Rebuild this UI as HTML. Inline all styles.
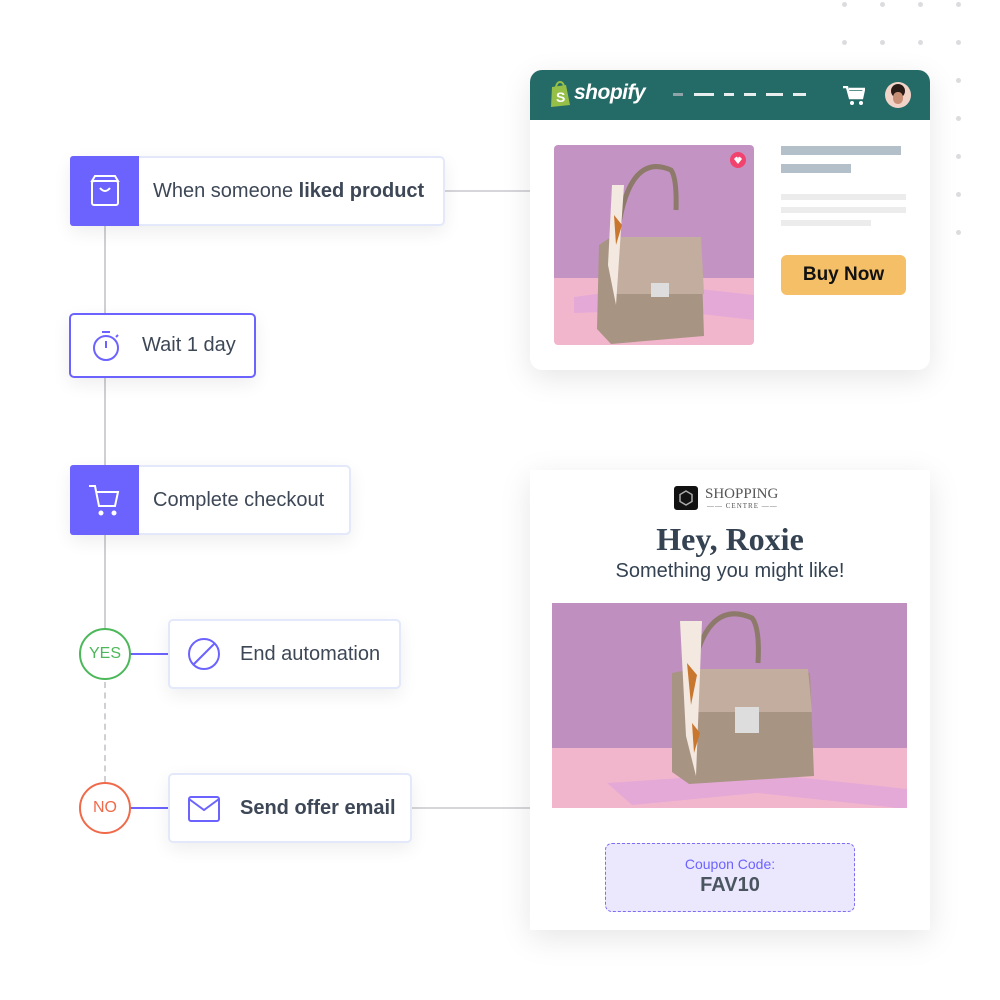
<!DOCTYPE html>
<html><head><meta charset="utf-8"><style>
*{margin:0;padding:0;box-sizing:border-box}
body{width:1000px;height:1000px;background:#fff;position:relative;overflow:hidden;font-family:"Liberation Sans",sans-serif;color:#3d4756}
.a{position:absolute}
.node{position:absolute;background:#fff;border:2px solid #e3e9fb;border-radius:5px;box-shadow:0 6px 18px rgba(0,0,0,.07);display:flex;align-items:center;font-size:20px}
.sq{width:69px;background:#6c63ff;border-radius:3px 0 0 3px;display:flex;align-items:center;justify-content:center;margin:-2px 0 -2px -2px;height:calc(100% + 4px)}
.dot{position:absolute;width:5px;height:5px;border-radius:50%;background:#dcdcdf}
.circ{position:absolute;width:52px;height:52px;border-radius:50%;background:#fff;display:flex;align-items:center;justify-content:center;font-size:16px;border:2px solid}
</style></head><body>
<div class="dot" style="left:842px;top:2px"></div><div class="dot" style="left:880px;top:2px"></div><div class="dot" style="left:918px;top:2px"></div><div class="dot" style="left:956px;top:2px"></div>
<div class="dot" style="left:842px;top:40px"></div><div class="dot" style="left:880px;top:40px"></div><div class="dot" style="left:918px;top:40px"></div><div class="dot" style="left:956px;top:40px"></div>
<div class="dot" style="left:956px;top:78px"></div><div class="dot" style="left:956px;top:116px"></div><div class="dot" style="left:956px;top:154px"></div><div class="dot" style="left:956px;top:192px"></div><div class="dot" style="left:956px;top:230px"></div>

<div class="a" style="left:104px;top:226px;width:2px;height:404px;background:#cfcfd4"></div>
<div class="a" style="left:104px;top:682px;height:100px;border-left:2px dashed #cfcfd4"></div>
<div class="a" style="left:444px;top:190px;width:86px;height:2px;background:#d5d5da"></div>
<div class="a" style="left:411px;top:807px;width:119px;height:2px;background:#d5d5da"></div>
<div class="a" style="left:130px;top:653px;width:40px;height:2px;background:#6c63ff"></div>
<div class="a" style="left:130px;top:807px;width:40px;height:2px;background:#6c63ff"></div>

<div class="node" style="left:70px;top:156px;width:375px;height:70px">
 <div class="sq"><svg width="34" height="34" viewBox="0 0 34 34" fill="none" stroke="#fff" stroke-width="2"><rect x="4" y="7" width="26" height="24" rx="2"/><path d="M7 2h20l3 5H4z"/><path d="M12 14q5 6 10 0"/></svg></div>
 <span style="margin-left:14px">When someone <b>liked product</b></span>
</div>
<div class="node" style="left:69px;top:313px;width:187px;height:65px;border-color:#6c63ff">
 <svg style="margin-left:20px" width="32" height="34" viewBox="0 0 32 34" fill="none" stroke="#6c63ff" stroke-width="2"><circle cx="15" cy="19" r="12"/><path d="M11 3h8M15 12v7M25 8l2-2"/></svg>
 <span style="margin-left:19px">Wait 1 day</span>
</div>
<div class="node" style="left:70px;top:465px;width:281px;height:70px">
 <div class="sq"><svg width="36" height="36" viewBox="0 0 36 36" fill="none" stroke="#fff" stroke-width="2"><path d="M2 4h6l4 20h16l3-14H10"/><circle cx="14" cy="31" r="1.5" fill="#fff"/><circle cx="27" cy="31" r="1.5" fill="#fff"/></svg></div>
 <span style="margin-left:14px">Complete checkout</span>
</div>
<div class="circ" style="left:79px;top:628px;border-color:#4cb85a;color:#4cb85a">YES</div>
<div class="circ" style="left:79px;top:782px;border-color:#f06a4a;color:#f06a4a">NO</div>
<div class="node" style="left:168px;top:619px;width:233px;height:70px">
 <svg style="margin-left:16px" width="36" height="36" viewBox="0 0 36 36" fill="none" stroke="#6c63ff" stroke-width="2"><circle cx="18" cy="18" r="15"/><path d="M8 28L28 8"/></svg>
 <span style="margin-left:18px">End automation</span>
</div>
<div class="node" style="left:168px;top:773px;width:244px;height:70px">
 <svg style="margin-left:16px" width="36" height="32" viewBox="0 0 36 32" fill="none" stroke="#6c63ff" stroke-width="2"><rect x="3" y="5" width="30" height="24" rx="2"/><path d="M3 7l15 11 15-11"/></svg>
 <span style="margin-left:18px;font-weight:bold">Send offer email</span>
</div>

<div class="a" style="left:530px;top:70px;width:400px;height:300px;background:#fff;border-radius:12px;box-shadow:0 8px 30px rgba(0,0,0,.10);overflow:hidden">
 <div style="height:50px;background:#246a66;position:relative">
  <svg class="a" style="left:19px;top:11px" width="22" height="26" viewBox="0 0 22 26"><path d="M3 6l14-2 4 20-19 2z" fill="#95bf47"/><path d="M7 6q1-5 4-5t4 4" fill="none" stroke="#95bf47" stroke-width="2"/><text x="7" y="21" font-size="14" font-weight="bold" fill="#fff" font-family="Liberation Sans">S</text></svg>
  <div class="a" style="left:44px;top:11px;color:#fff;font-weight:bold;font-style:italic;font-size:21px;letter-spacing:-.5px">shopify</div>
  <div class="a" style="left:143px;top:23px;width:10px;height:3px;background:#8fa3a8"></div>
  <div class="a" style="left:164px;top:23px;width:20px;height:3px;background:#e8eeee"></div>
  <div class="a" style="left:194px;top:23px;width:10px;height:3px;background:#e8eeee"></div>
  <div class="a" style="left:214px;top:23px;width:12px;height:3px;background:#e8eeee"></div>
  <div class="a" style="left:236px;top:23px;width:17px;height:3px;background:#e8eeee"></div>
  <div class="a" style="left:263px;top:23px;width:13px;height:3px;background:#e8eeee"></div>
  <svg class="a" style="left:313px;top:16px" width="22" height="20" viewBox="0 0 22 20"><path d="M0 1h4l3 11h12l2-9H6" fill="none" stroke="#fff" stroke-width="2.5"/><rect x="6" y="5" width="14" height="6" fill="#fff"/><circle cx="9" cy="17" r="2" fill="#fff"/><circle cx="18" cy="17" r="2" fill="#fff"/></svg>
  <div class="a" style="left:355px;top:12px;width:26px;height:26px;border-radius:50%;background:#f2d3c8;overflow:hidden"><div style="margin:2px 6px;width:14px;height:14px;border-radius:50%;background:#2a1b17"></div><div style="margin:-8px 8px;width:10px;height:12px;border-radius:45%;background:#c78f75"></div></div>
 </div>
 <div class="a" style="left:24px;top:75px;width:200px;height:200px;border-radius:4px;overflow:hidden">
  <svg width="200" height="200" viewBox="0 0 200 200">
   <rect width="200" height="133" fill="#c394c3"/><rect y="133" width="200" height="67" fill="#f2b6cc"/>
   <path d="M20 152l90-12 90 10v25L110 165 20 168z" fill="#e4a9d7"/>
   <path d="M62 100q10-95 55-75q6 8 5 40" fill="none" stroke="#8d7a6a" stroke-width="5"/>
   <path d="M45 100l12-8 90 4 3 95-93 8-14-15z" fill="#a89483"/>
   <path d="M57 92h90l3 57H60z" fill="#c2ad9e"/>
   <rect x="97" y="138" width="18" height="14" fill="#ddd"/>
   <path d="M58 40l12 0-8 120-8-40z" fill="#f3e9e0"/><path d="M60 70l8 10-6 20z" fill="#c9762e"/>
   <circle cx="184" cy="15" r="8" fill="#f2426e"/><path d="M180 14q4-5 4 1q0-6 4-1l-4 5z" fill="#fff"/>
  </svg>
 </div>
 <div class="a" style="left:251px;top:76px;width:120px;height:9px;background:#b3c0ca"></div>
 <div class="a" style="left:251px;top:94px;width:70px;height:9px;background:#b3c0ca"></div>
 <div class="a" style="left:251px;top:124px;width:125px;height:6px;background:#ececec"></div>
 <div class="a" style="left:251px;top:137px;width:125px;height:6px;background:#ececec"></div>
 <div class="a" style="left:251px;top:150px;width:90px;height:6px;background:#ececec"></div>
 <div class="a" style="left:251px;top:185px;width:125px;height:40px;background:#f4bf66;border-radius:6px;text-align:center;line-height:40px;font-weight:bold;font-size:19px;color:#111">Buy Now</div>
</div>

<div class="a" style="left:530px;top:470px;width:400px;height:460px;background:#fff;box-shadow:0 8px 30px rgba(0,0,0,.10)">
 <div class="a" style="left:144px;top:16px;width:24px;height:24px;background:#111;border-radius:3px"><svg width="24" height="24"><polygon points="12,5 18,8.5 18,15.5 12,19 6,15.5 6,8.5" fill="none" stroke="#aaa" stroke-width="1.5"/></svg></div>
 <div class="a" style="left:175px;top:16px;font-family:'Liberation Serif',serif;font-size:15px;color:#555">SHOPPING</div>
 <div class="a" style="left:177px;top:32px;font-family:'Liberation Serif',serif;font-size:7px;color:#555;letter-spacing:1px">—— CENTRE ——</div>
 <div class="a" style="left:0;top:51px;width:400px;text-align:center;font-family:'Liberation Serif',serif;font-weight:bold;font-size:32px;color:#344252">Hey, Roxie</div>
 <div class="a" style="left:0;top:90px;width:400px;text-align:center;font-size:20px;color:#344252">Something you might like!</div>
 <div class="a" style="left:22px;top:133px;width:355px;height:205px;overflow:hidden">
  <svg width="355" height="205" viewBox="0 0 355 205">
   <rect width="355" height="145" fill="#bf8fbf"/><rect y="145" width="355" height="60" fill="#f2b6cc"/>
   <path d="M55 180l150-10 150 16v20L205 190 80 202z" fill="#e4a9d7"/>
   <path d="M140 70q15-75 60-55q8 10 6 45" fill="none" stroke="#8d7a6a" stroke-width="5"/>
   <path d="M120 70l20-4 118 4 4 103-125 8-17-12z" fill="#a89483"/>
   <path d="M138 66h118l4 43H140z" fill="#c2ad9e"/>
   <rect x="183" y="104" width="24" height="26" fill="#ddd"/>
   <path d="M128 18l22 0-6 155-10-40z" fill="#f3e9e0"/><path d="M135 60l10 12-6 30z" fill="#c9762e"/><path d="M140 120l8 10-6 20z" fill="#c9762e"/>
  </svg>
 </div>
 <div class="a" style="left:75px;top:373px;width:250px;height:69px;background:#ebe7fd;border:1.5px dashed #7d6cf4;border-radius:7px;text-align:center">
  <div style="color:#6c63ff;font-size:14px;margin-top:12px">Coupon Code:</div>
  <div style="color:#4a5560;font-size:20px;font-weight:bold;margin-top:2px">FAV10</div>
 </div>
</div>
</body></html>
